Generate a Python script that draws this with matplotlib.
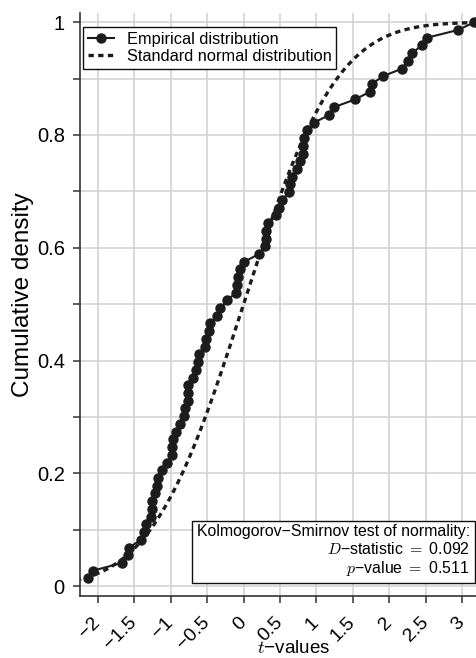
import math
import numpy as np
import matplotlib
matplotlib.use("Agg")
import matplotlib.pyplot as plt
import matplotlib.transforms as mtransforms
from matplotlib.ticker import MultipleLocator, FixedLocator

# ---- data (t-values) ----
t_values = [-2.13, -2.07, -1.67, -1.58, -1.57, -1.41, -1.37, -1.34, -1.27, -1.26,
            -1.25, -1.22, -1.19, -1.17, -1.12, -1.045, -0.985, -0.977, -0.963, -0.926,
            -0.87, -0.816, -0.802, -0.765, -0.757, -0.757, -0.689, -0.656, -0.620, -0.610,
            -0.528, -0.514, -0.473, -0.459, -0.359, -0.322, -0.222, -0.107, -0.093, -0.080,
            -0.048, 0.011, 0.213, 0.295, 0.309, 0.309, 0.340, 0.446, 0.491, 0.524,
            0.628, 0.638, 0.661, 0.730, 0.775, 0.812, 0.812, 0.834, 0.875, 0.967,
            1.177, 1.241, 1.529, 1.735, 1.763, 1.91, 2.178, 2.261, 2.316, 2.444,
            2.521, 2.947, 3.166]
x_ticks = [-2, -1.5, -1, -0.5, 0, 0.5, 1, 1.5, 2, 2.5, 3]
x_tick_labels = ["\u22122", "\u22121.5", "\u22121", "\u22120.5", "0", "0.5", "1", "1.5", "2", "2.5", "3"]
y_ticks = [0, 0.2, 0.4, 0.6, 0.8, 1]
y_tick_labels = ["0", "0.2", "0.4", "0.6", "0.8", "1"]
d_stat = 0.092
p_val = 0.511

plt.rcParams['font.family'] = ['Liberation Sans', 'DejaVu Sans']
plt.rcParams['mathtext.fontset'] = 'cm'

t_sorted = np.sort(np.array(t_values))
n = len(t_sorted)
ecdf = np.arange(1, n + 1) / n

xs = np.linspace(-2.3, 3.3, 400)
norm_cdf = np.array([0.5 * (1 + math.erf(v / math.sqrt(2))) for v in xs])

fig = plt.figure(figsize=(4.77, 6.58), dpi=100)
ax = fig.add_axes([0.168, 0.094, 0.832, 0.886])

ax.set_xlim(-2.243, 3.203)
ax.set_ylim(-0.0177, 1.016)

ax.xaxis.set_major_locator(FixedLocator(x_ticks))
ax.yaxis.set_major_locator(FixedLocator(y_ticks))
ax.yaxis.set_minor_locator(MultipleLocator(0.1))
ax.grid(True, which='major', color='#d0d0d0', lw=1.1)
ax.grid(True, which='minor', axis='y', color='#d0d0d0', lw=1.1)
ax.set_axisbelow(True)

dark = '#1c1c1c'
ax.plot(t_sorted, ecdf, '-o', color=dark, lw=1.5, ms=6.5, label='Empirical distribution', zorder=3)
ax.plot(xs, norm_cdf, color=dark, lw=2.4, linestyle=(0, (1.6, 1.3)),
        label='Standard normal distribution', zorder=2)

ax.set_xticks(x_ticks)
ax.set_xticklabels(x_tick_labels, rotation=45, ha='right', va='center',
                   rotation_mode='anchor', fontsize=14)
ax.set_yticks(y_ticks)
ax.set_yticklabels(y_tick_labels, fontsize=14.5)

offset = mtransforms.ScaledTranslation(3 / 100, 0, fig.dpi_scale_trans)
for lab in ax.get_xticklabels():
    lab.set_transform(lab.get_transform() + offset)

for s in ['top', 'right']:
    ax.spines[s].set_visible(False)
for s in ['left', 'bottom']:
    ax.spines[s].set_color('#333333')
    ax.spines[s].set_linewidth(1.2)
ax.tick_params(which='both', direction='out', length=5, width=1.1, color='#333333')
ax.tick_params(axis='x', pad=12)
ax.tick_params(axis='y', pad=6)

ax.set_xlabel('$t$\u2212values', fontsize=13.5, va='top')
ax.xaxis.set_label_coords(0.539, -0.076)
ax.set_ylabel('Cumulative density', fontsize=17.5)
ax.yaxis.set_label_coords(-0.115, 0.518)

leg = ax.legend(loc='upper left', bbox_to_anchor=(0.0076, 0.976), fontsize=11.8, frameon=True,
                fancybox=False, edgecolor='#111111', framealpha=1, handlelength=1.6,
                borderpad=0.3, labelspacing=0.1, handletextpad=0.75, borderaxespad=0.0)
leg.get_frame().set_linewidth(1.0)

ks_text = ("Kolmogorov\u2212Smirnov test of normality:\n"
           "$D$\u2212statistic $=$ %.3f\n$p$\u2212value $=$ %.3f" % (d_stat, p_val))
ax.text(0.982, 0.031, ks_text, transform=ax.transAxes, ha='right', va='bottom',
        fontsize=11.4, linespacing=1.15, multialignment='right',
        bbox=dict(boxstyle='square,pad=0.3', facecolor='white', edgecolor='#111111', lw=1.0))

fig.savefig('out.png', dpi=100)
